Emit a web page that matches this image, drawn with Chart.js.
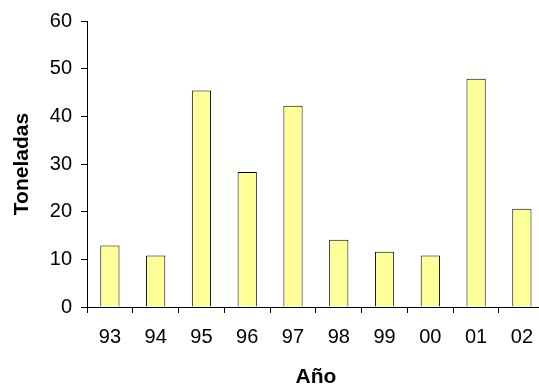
<!DOCTYPE html>
<html>
<head>
<meta charset="utf-8">
<script src="https://cdn.jsdelivr.net/npm/chart.js@4.4.1/dist/chart.umd.min.js"></script>
<style>
  html, body { margin: 0; padding: 0; background: #fff; overflow: hidden; }
  .chart { width: 545px; height: 390px; }
</style>
</head>
<body>
<div class="chart"><canvas id="myChart" width="545" height="390"></canvas></div>
<script>
// data
const years = ["93", "94", "95", "96", "97", "98", "99", "00", "01", "02"];
const toneladas = [12.9, 10.8, 45.4, 28.3, 42.2, 14.1, 11.6, 10.8, 47.9, 20.6];
const yTicks = [0, 10, 20, 30, 40, 50, 60];

const font = "'Liberation Sans', Arial, sans-serif";
const ctx = document.getElementById("myChart");

new Chart(ctx, {
  type: "bar",
  data: {
    labels: years,
    datasets: [
      {
        data: toneladas,
        backgroundColor: "#FFFF99",
        borderColor: "#000000",
        borderWidth: 1,
        categoryPercentage: 1,
        barPercentage: 0.42,
      },
    ],
  },
  options: {
    responsive: false,
    animation: false,
    events: [],
    layout: { padding: { top: 19, right: 0, bottom: 0, left: 0 } },
    plugins: {
      legend: { display: false },
      tooltip: { enabled: false },
    },
    scales: {
      x: {
        grid: {
          display: true,
          drawOnChartArea: false,
          color: "#000",
          tickLength: 6,
          offset: true,
        },
        border: { color: "#000", width: 1 },
        ticks: {
          color: "#000",
          font: { family: font, size: 20 },
          padding: 12,
          maxRotation: 0,
          minRotation: 0,
        },
        title: {
          display: true,
          text: "Año",
          color: "#000",
          font: { family: font, size: 21, weight: "bold" },
          padding: { top: 0, bottom: 0 },
        },
        afterFit: (scale) => {
          scale.height = 83;
        },
      },
      y: {
        min: 0,
        max: 60,
        afterBuildTicks: (scale) => {
          scale.ticks = yTicks.map((v) => ({ value: v }));
        },
        grid: {
          display: true,
          drawOnChartArea: false,
          color: "#000",
          tickLength: 6,
        },
        border: { color: "#000", width: 1 },
        ticks: {
          color: "#000",
          font: { family: font, size: 20 },
          padding: 9,
        },
        title: {
          display: true,
          text: "Toneladas",
          color: "#000",
          font: { family: font, size: 21, weight: "bold" },
          padding: { top: 10, bottom: 0 },
        },
        afterFit: (scale) => {
          scale.width = 87;
        },
      },
    },
  },
});
</script>
</body>
</html>
